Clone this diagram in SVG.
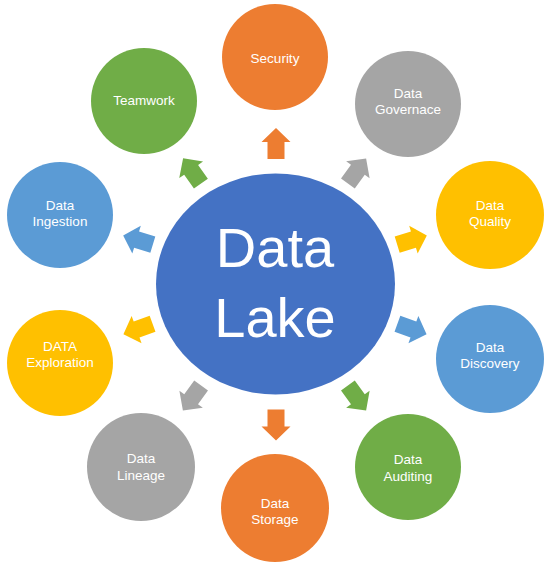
<svg xmlns="http://www.w3.org/2000/svg" width="550" height="571" viewBox="0 0 550 571">
  <style>
    .lbl { font-family: "Liberation Sans", Arial, sans-serif; font-size: 13.5px; fill: #ffffff; text-anchor: middle; }
    .big { font-family: "Liberation Sans", Arial, sans-serif; font-size: 56px; fill: #ffffff; text-anchor: middle; }
    .orange { fill: #ED7D31; }
    .gray { fill: #A5A5A5; }
    .yellow { fill: #FFC000; }
    .blue { fill: #5B9BD5; }
    .green { fill: #70AD47; }
  </style>
  <defs>
    <path id="arr" d="M-15.5,-8.5 L1.5,-8.5 L1.5,-14.5 L15.5,0 L1.5,14.5 L1.5,8.5 L-15.5,8.5 Z"/>
  </defs>
  <rect width="550" height="571" fill="#ffffff"/>

  <g id="connectors">
    <use href="#arr" class="orange" transform="translate(276,143.5) rotate(-90)"/>
    <use href="#arr" class="orange" transform="translate(276,425) rotate(90)"/>
    <use href="#arr" class="gray" transform="translate(357,171) rotate(-54)"/>
    <use href="#arr" class="green" transform="translate(192,171) rotate(-125)"/>
    <use href="#arr" class="blue" transform="translate(138,240) rotate(197)"/>
    <use href="#arr" class="yellow" transform="translate(412,240) rotate(-17)"/>
    <use href="#arr" class="yellow" transform="translate(138,329) rotate(160)"/>
    <use href="#arr" class="blue" transform="translate(412,329) rotate(20)"/>
    <use href="#arr" class="gray" transform="translate(192,398) rotate(126)"/>
    <use href="#arr" class="green" transform="translate(357,398) rotate(54)"/>
  </g>

  <g id="data-lake">
    <ellipse cx="275.5" cy="284" rx="119.5" ry="110.5" fill="#4472C4"/>
    <text class="big" x="275" y="267">Data</text>
    <text class="big" x="275" y="337">Lake</text>
  </g>

  <g id="security">
    <circle cx="275" cy="57" r="53" class="orange"/>
    <text class="lbl" x="275" y="63">Security</text>
  </g>

  <g id="data-governance">
    <circle cx="408" cy="104" r="53" class="gray"/>
    <text class="lbl" x="408" y="98">Data</text>
    <text class="lbl" x="408" y="114">Governace</text>
  </g>

  <g id="teamwork">
    <circle cx="144" cy="101" r="53" class="green"/>
    <text class="lbl" x="144" y="105">Teamwork</text>
  </g>

  <g id="data-ingestion">
    <circle cx="60" cy="215" r="53" class="blue"/>
    <text class="lbl" x="60" y="210">Data</text>
    <text class="lbl" x="60" y="226">Ingestion</text>
  </g>

  <g id="data-quality">
    <circle cx="490" cy="215" r="54" class="yellow"/>
    <text class="lbl" x="490" y="210">Data</text>
    <text class="lbl" x="490" y="226">Quality</text>
  </g>

  <g id="data-exploration">
    <circle cx="60" cy="363" r="53" class="yellow"/>
    <text class="lbl" x="60" y="351">DATA</text>
    <text class="lbl" x="60" y="367">Exploration</text>
  </g>

  <g id="data-discovery">
    <circle cx="490" cy="359" r="54" class="blue"/>
    <text class="lbl" x="490" y="352">Data</text>
    <text class="lbl" x="490" y="368">Discovery</text>
  </g>

  <g id="data-lineage">
    <circle cx="141" cy="467" r="54" class="gray"/>
    <text class="lbl" x="141" y="463">Data</text>
    <text class="lbl" x="141" y="480">Lineage</text>
  </g>

  <g id="data-auditing">
    <circle cx="408" cy="467" r="53" class="green"/>
    <text class="lbl" x="408" y="464">Data</text>
    <text class="lbl" x="408" y="481">Auditing</text>
  </g>

  <g id="data-storage">
    <circle cx="275" cy="508" r="54" class="orange"/>
    <text class="lbl" x="275" y="508">Data</text>
    <text class="lbl" x="275" y="524">Storage</text>
  </g>
</svg>
